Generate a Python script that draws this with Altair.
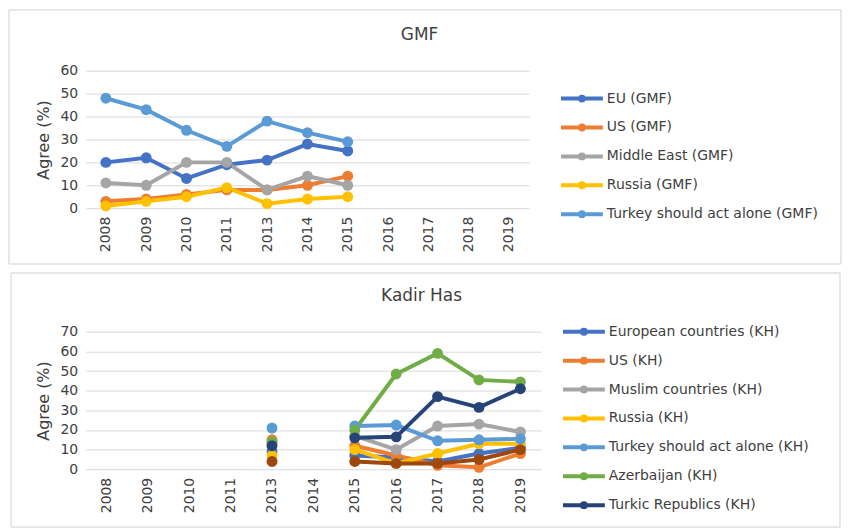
import altair as alt
import pandas as pd

years = ["2008", "2009", "2010", "2011", "2013", "2014", "2015", "2016", "2017", "2018", "2019"]

# GMF survey
gmf_years = ["2008", "2009", "2010", "2011", "2013", "2014", "2015"]
gmf_series = ["EU (GMF)", "US (GMF)", "Middle East (GMF)", "Russia (GMF)", "Turkey should act alone (GMF)"]
gmf_colors = ["#4472C4", "#ED7D31", "#A5A5A5", "#FFC000", "#5B9BD5"]
gmf_eu = [20, 22, 13, 19, 21, 28, 25]
gmf_us = [3, 4, 6, 8, 8, 10, 14]
gmf_me = [11, 10, 20, 20, 8, 14, 10]
gmf_ru = [1, 3, 5, 9, 2, 4, 5]
gmf_alone = [48, 43, 34, 27, 38, 33, 29]

# Kadir Has survey
kh_years = ["2013", "2015", "2016", "2017", "2018", "2019"]
kh_series = ["European countries (KH)", "US (KH)", "Muslim countries (KH)", "Russia (KH)",
             "Turkey should act alone (KH)", "Azerbaijan (KH)", "Turkic Republics (KH)"]
kh_colors = ["#4472C4", "#ED7D31", "#A5A5A5", "#FFC000", "#5B9BD5", "#70AD47", "#264478"]
kh_eu = [9, 7, 6, 4, 8, 11]
kh_us = [15, 12, 7, 2, 1, 8]
kh_muslim = [13, 17, 10, 22, 23, 19]
kh_ru = [7, 10, 3, 8, 13, 13]
kh_alone = [21, 22, 22.5, 14.5, 15, 15.5]
kh_az = [14, 20, 48.5, 59, 45.5, 44.5]
kh_turkic = [12, 16, 16.5, 37, 31.5, 41]
kh_other = [4, 4, 3, 3, 5, 10]  # unlabeled series (not in legend)
other_color = "#9E480E"

FONT = "DejaVu Sans"
TXT = "#404040"

gmf_rows = []
for name, vals in zip(gmf_series, [gmf_eu, gmf_us, gmf_me, gmf_ru, gmf_alone]):
    for y, v in zip(gmf_years, vals):
        gmf_rows.append({"year": y, "series": name, "value": v, "seg": "b"})
gmf_df = pd.DataFrame(gmf_rows)

kh_rows = []
for name, vals in zip(kh_series, [kh_eu, kh_us, kh_muslim, kh_ru, kh_alone, kh_az, kh_turkic]):
    for y, v in zip(kh_years, vals):
        kh_rows.append({"year": y, "series": name, "value": v, "seg": "a" if y == "2013" else "b"})
kh_df = pd.DataFrame(kh_rows)
other_df = pd.DataFrame({"year": kh_years, "value": kh_other,
                         "seg": ["a" if y == "2013" else "b" for y in kh_years]})

# legend symbol: a line with a dot in the middle (side = sqrt(size)=14px, path spans 3 units each side)
legend_path = "M-3,0L3,0M0.28,0A0.28,0.28,0,1,1,-0.28,0A0.28,0.28,0,1,1,0.28,0"


def make_panel(df, series, colors, ymax, title, w, h, lx, ly, box, tx, ty, other=None):
    x = alt.X("year:O", scale=alt.Scale(domain=years), title=None,
              axis=alt.Axis(labelAngle=270, ticks=False, domain=False, labelPadding=8,
                            labelFontSize=14, labelColor=TXT, labelFont=FONT))
    y = alt.Y("value:Q", scale=alt.Scale(domain=[0, ymax], nice=False), title="Agree (%)",
              axis=alt.Axis(values=list(range(0, ymax + 1, 10)), ticks=False, domain=False,
                            labelOverlap=False,
                            labelFontSize=14, labelColor=TXT, labelFont=FONT,
                            titleFontSize=16, titleFontWeight="normal", titleColor=TXT,
                            titleFont=FONT, gridColor="#d9d9d9", labelPadding=8, titlePadding=9))
    color_legend = alt.Color("series:N", scale=alt.Scale(domain=series, range=colors),
                             legend=alt.Legend(title=None, orient="none", legendX=lx, legendY=ly,
                                               symbolType=legend_path, symbolSize=196,
                                               symbolStrokeWidth=4, labelFontSize=14,
                                               labelFont=FONT, labelColor=TXT,
                                               rowPadding=9, labelOffset=16, labelLimit=400))
    color_nolegend = alt.Color("series:N", scale=alt.Scale(domain=series, range=colors), legend=None)
    base = alt.Chart(df)
    lines = base.transform_filter(alt.datum.seg == "b").mark_line(
        strokeWidth=4).encode(x=x, y=y, color=color_legend)
    pts = base.mark_point(filled=True, size=120, opacity=1).encode(x=x, y=y, color=color_nolegend)
    one = pd.DataFrame({"a": [0]})
    border = alt.Chart(one).mark_rect(
        fillOpacity=0, stroke="#d0d0d0", strokeWidth=1).encode(
        x=alt.value(box[0]), x2=alt.value(box[1]), y=alt.value(box[2]), y2=alt.value(box[3]))
    title_mark = alt.Chart(one).mark_text(
        text=title, fontSize=17, font=FONT, color=TXT, align="center", baseline="middle").encode(
        x=alt.value(tx), y=alt.value(ty))
    layers = [border, title_mark, lines, pts]
    if other is not None:
        odf, ocolor = other
        layers.append(alt.Chart(odf).transform_filter(alt.datum.seg == "b").mark_line(
            strokeWidth=4, color=ocolor).encode(x=x, y=y))
        layers.append(alt.Chart(odf).mark_point(filled=True, size=120, opacity=1, color=ocolor).encode(
            x=x, y=y))
    return alt.layer(*layers).properties(width=w, height=h)


top = make_panel(gmf_df, gmf_series, gmf_colors, 60, "GMF", 445, 138, 489, 19,
                 (-77, 758, -61, 194), 335, -36)

bottom = make_panel(kh_df, kh_series, kh_colors, 70, "Kadir Has", 457, 138, 491, -9,
                    (-75, 757, -59, 196), 337, -36, other=(other_df, other_color))

chart = alt.vconcat(top, bottom, spacing=7).resolve_scale(
    color="independent", x="independent", y="independent").resolve_legend(
    color="independent").properties(padding=0).configure_view(stroke=None)

chart.save("out.html", embed_options={"renderer": "svg", "actions": False})
